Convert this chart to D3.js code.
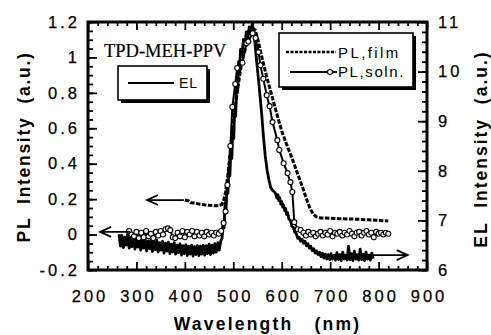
<!DOCTYPE html>
<html><head><meta charset="utf-8">
<script src="https://cdn.jsdelivr.net/npm/d3@7"></script>
<style>body{margin:0;background:#fff}svg{display:block}</style>
</head><body>
<svg id="c" width="491" height="335"></svg>
<script>
// ---- data ----
const xTicks = [200, 300, 400, 500, 600, 700, 800, 900];
const yLeftTicks = [-0.2, 0, 0.2, 0.4, 0.6, 0.8, 1, 1.2];
const yLeftLabels = ["-0.2", "0", "0.2", "0.4", "0.6", "0.8", "1", "1.2"];
const yRightTicks = [6, 7, 8, 9, 10, 11];
const yRightLabels = ["6", "7", "8", "9", "10", "11"];

// EL (right axis)
const elWl = [264,267,270,273,276,279,282,285,288,291,294,297,300,303,306,309,312,315,318,321,324,327,330,333,336,339,342,345,348,351,354,357,360,363,366,369,372,375,378,381,384,387,390,393,396,399,402,405,408,411,414,417,420,423,426,429,432,435,438,441,444,447,450,453,456,459,462,465,468,471,474,
 477,479,481,483,485,487,489,491,493,495,497,499,501,503,505,507,509,511,513,515,518,521,524,527,530,533,536,539,542,545,548,552,556,559,562,566,570,574,577,580,584,587,590,592,594,596,598,600,602,604,606,608,610,612,615,618,621,624,627,630,633,
 636,639,642,645,648,651,654,657,660,663,666,669,672,675,678,681,684,687,690,693,696,699,702,705,708,711,714,717,720,723,726,729,732,735,738,741,744,747,750,753,756,759,762,765,768,771,774,777,780,783,786,789];
const elVal = [6.72,6.48,6.70,6.45,6.66,6.50,6.73,6.44,6.64,6.47,6.69,6.42,6.62,6.46,6.67,6.40,6.60,6.44,6.63,6.38,6.58,6.43,6.61,6.37,6.57,6.41,6.60,6.36,6.55,6.40,6.58,6.34,6.54,6.38,6.56,6.33,6.52,6.36,6.55,6.32,6.50,6.35,6.53,6.30,6.49,6.33,6.51,6.29,6.48,6.32,6.50,6.28,6.47,6.31,6.49,6.29,6.48,6.32,6.50,6.30,6.49,6.33,6.52,6.31,6.50,6.34,6.53,6.36,6.55,6.40,6.58,
 6.65,6.95,6.85,7.35,7.15,7.70,7.55,8.05,7.90,8.45,8.25,8.85,8.65,9.30,9.10,9.80,9.60,10.20,10.00,10.45,10.35,10.65,10.55,10.80,10.70,10.90,10.82,10.95,10.85,10.55,10.23,9.85,9.43,9.10,8.72,8.30,8.00,7.80,7.67,7.62,7.58,7.55,7.45,7.52,7.40,7.46,7.33,7.38,7.27,7.31,7.20,7.24,7.12,7.16,7.02,7.00,6.88,6.86,6.76,6.74,6.64,
 6.66,6.58,6.62,6.54,6.58,6.49,6.53,6.44,6.48,6.39,6.43,6.34,6.39,6.31,6.36,6.27,6.34,6.24,6.32,6.22,6.31,6.21,6.33,6.22,6.30,6.20,6.35,6.21,6.31,6.19,6.36,6.22,6.30,6.20,6.48,6.21,6.33,6.19,6.38,6.22,6.31,6.20,6.42,6.21,6.32,6.19,6.36,6.22,6.30,6.20,6.34,6.23];

// PL film (left axis)
const filmWl = [400,408,412,420,430,440,450,460,470,476,480,484,488,492,496,500,505,510,515,520,525,530,535,540,545,550,555,560,570,580,590,600,610,620,630,640,650,658,665,672,680,700,720,740,760,780,800,820];
const filmVal = [0.195,0.19,0.18,0.178,0.172,0.168,0.165,0.163,0.163,0.17,0.19,0.24,0.32,0.42,0.53,0.63,0.74,0.84,0.93,1.0,1.05,1.1,1.14,1.16,1.155,1.11,1.05,0.99,0.88,0.78,0.68,0.585,0.51,0.44,0.365,0.29,0.21,0.15,0.115,0.1,0.094,0.092,0.09,0.088,0.086,0.083,0.08,0.077];

// PL solution (left axis)
const solnWl = [285,290,295,300,305,310,315,320,325,330,335,340,345,350,355,360,365,370,375,380,385,390,395,400,405,410,415,420,425,430,435,440,445,450,455,460,465,470,475,
 480,484,488,494,498,504,508,519,527,531,540,546,552,556,562,569,575,581,591,595,604,612,618,622,626,633,639,
 645,650,655,660,665,670,675,680,685,690,695,700,705,710,715,720,725,730,735,740,745,750,755,760,765,770,775,780,785,790,795,800,805,810,815,820];
const solnVal = [0.02,0.0,-0.01,0.015,-0.02,0.01,-0.015,0.02,-0.01,0.005,-0.02,0.015,-0.005,0.02,0.0,0.03,0.035,0.025,-0.015,-0.02,0.01,-0.01,0.02,-0.015,0.015,0.0,0.02,-0.01,0.015,-0.005,0.01,-0.01,0.015,0.0,0.01,-0.005,0.01,0.005,0.02,
 0.065,0.13,0.28,0.5,0.72,0.85,0.94,0.97,1.08,1.09,1.137,1.11,1.03,0.956,0.88,0.787,0.725,0.635,0.533,0.477,0.403,0.347,0.296,0.24,0.07,0.03,0.026,
 0.01,-0.005,0.015,0.0,0.01,-0.01,0.005,0.015,-0.005,0.01,0.0,0.02,-0.01,0.01,0.005,0.015,-0.005,0.01,0.0,0.02,0.005,-0.01,0.01,0.015,-0.005,0.01,0.02,0.0,0.01,-0.015,0.015,0.005,0.01,0.0,0.01,0.005];

// ---- chart ----
const svg = d3.select("#c");
const L = 88, R = 427, T = 22, B = 270;
const x = d3.scaleLinear().domain([200, 900]).range([L, R]);
const yL = d3.scaleLinear().domain([-0.2, 1.2]).range([B, T]);
const yR = d3.scaleLinear().domain([6, 11]).range([B, T]);

const range = (a, b, s) => d3.range(Math.round((b - a) / s) + 1).map(i => +(a + i * s).toFixed(4));
const xMinor = range(200, 900, 20).filter(v => v % 100 !== 0);
const yLMinor = range(-0.2, 1.2, 0.05);
const yRMinor = range(6, 11, 0.2);

const tickFont = "'Liberation Sans', Arial, sans-serif";

// minor ticks
svg.append("g").attr("transform", `translate(0,${B})`)
  .call(d3.axisBottom(x).tickValues(xMinor).tickSize(-4).tickFormat(""));
svg.append("g").attr("transform", `translate(0,${T})`)
  .call(d3.axisTop(x).tickValues(xMinor).tickSize(-4).tickFormat(""));
svg.append("g").attr("transform", `translate(${L},0)`)
  .call(d3.axisLeft(yL).tickValues(yLMinor).tickSize(-5).tickFormat(""));
svg.append("g").attr("transform", `translate(${R},0)`)
  .call(d3.axisRight(yR).tickValues(yRMinor).tickSize(-5).tickFormat(""));

// major ticks + labels
const gB = svg.append("g").attr("transform", `translate(0,${B})`)
  .call(d3.axisBottom(x).tickValues(xTicks).tickSize(-8).tickFormat(d3.format("d")));
gB.selectAll("text").attr("y", 32).attr("dy", 0).attr("dx", 1.5);
svg.append("g").attr("transform", `translate(0,${T})`)
  .call(d3.axisTop(x).tickValues(xTicks).tickSize(-8).tickFormat(""));
const gL = svg.append("g").attr("transform", `translate(${L},0)`)
  .call(d3.axisLeft(yL).tickValues(yLeftTicks).tickSize(-9).tickFormat((d, i) => yLeftLabels[i]));
gL.selectAll("text").attr("x", -8);
const gR = svg.append("g").attr("transform", `translate(${R},0)`)
  .call(d3.axisRight(yR).tickValues(yRightTicks).tickSize(-9).tickFormat((d, i) => yRightLabels[i]));
gR.selectAll("text").attr("x", 11);

svg.selectAll(".tick line").attr("stroke", "#000").attr("stroke-width", 1.8);
svg.selectAll(".domain").remove();
svg.selectAll(".tick text").attr("font-family", tickFont).attr("font-size", 16.5)
  .attr("letter-spacing", "3px").attr("fill", "#000")
  .attr("stroke", "#000").attr("stroke-width", 0.25);

// frame
svg.append("rect").attr("x", L).attr("y", T).attr("width", R - L).attr("height", B - T)
  .attr("fill", "none").attr("stroke", "#000").attr("stroke-width", 3);

// series
const lineEL = d3.line().x((d, i) => x(elWl[i])).y(d => yR(d));
svg.append("path").datum(elVal).attr("d", lineEL)
  .attr("fill", "none").attr("stroke", "#000").attr("stroke-width", 2.8).attr("stroke-linejoin", "round");

const lineFilm = d3.line().x((d, i) => x(filmWl[i])).y(d => yL(d));
svg.append("path").datum(filmVal).attr("d", lineFilm)
  .attr("fill", "none").attr("stroke", "#000").attr("stroke-width", 3).attr("stroke-dasharray", "4.5,1.5");

const lineSoln = d3.line().x((d, i) => x(solnWl[i])).y(d => yL(d));
svg.append("path").datum(solnVal).attr("d", lineSoln)
  .attr("fill", "none").attr("stroke", "#000").attr("stroke-width", 2);
svg.append("g").selectAll("circle").data(solnVal).join("circle")
  .attr("cx", (d, i) => x(solnWl[i])).attr("cy", d => yL(d)).attr("r", 2.5)
  .attr("fill", "#fff").attr("stroke", "#000").attr("stroke-width", 1.1);

// arrows (annotations)
function arrow(x1, y1, x2, y2) {
  const dir = Math.sign(x2 - x1);
  svg.append("path").attr("d", `M${x1},${y1}L${x2},${y2}M${x2 - dir * 11},${y2 - 5}L${x2},${y2}L${x2 - dir * 11},${y2 + 5}`)
    .attr("fill", "none").attr("stroke", "#000").attr("stroke-width", 1.8);
}
arrow(x(398), yL(0.195), x(322), yL(0.195));
arrow(x(287), yL(0.015), x(225), yL(0.015));
arrow(x(784), yR(6.3), x(860), yR(6.3));

// sample label
svg.append("text").attr("x", 104).attr("y", 57).text("TPD-MEH-PPV")
  .attr("font-family", "'Liberation Serif', 'Times New Roman', serif").attr("font-size", 18.5)
  .attr("stroke", "#000").attr("stroke-width", 0.2);

// legend 1
svg.append("rect").attr("x", 121).attr("y", 69).attr("width", 89).attr("height", 34).attr("fill", "#000");
svg.append("rect").attr("x", 118).attr("y", 66).attr("width", 89).attr("height", 34)
  .attr("fill", "#fff").attr("stroke", "#000").attr("stroke-width", 1.6);
svg.append("line").attr("x1", 128).attr("x2", 174).attr("y1", 83).attr("y2", 83)
  .attr("stroke", "#000").attr("stroke-width", 2.2);
svg.append("text").attr("x", 179).attr("y", 88).text("EL")
  .attr("font-family", tickFont).attr("font-size", 14).attr("letter-spacing", "1px");

// legend 2
svg.append("rect").attr("x", 282).attr("y", 36).attr("width", 134).attr("height", 54).attr("fill", "#000");
svg.append("rect").attr("x", 279).attr("y", 33).attr("width", 134).attr("height", 54)
  .attr("fill", "#fff").attr("stroke", "#000").attr("stroke-width", 1.6);
svg.append("line").attr("x1", 286).attr("x2", 336).attr("y1", 52).attr("y2", 52)
  .attr("stroke", "#000").attr("stroke-width", 2.6).attr("stroke-dasharray", "3,1.5");
svg.append("text").attr("x", 338).attr("y", 58).text("PL,film")
  .attr("font-family", tickFont).attr("font-size", 15).attr("letter-spacing", "2.4px");
svg.append("line").attr("x1", 290).attr("x2", 337).attr("y1", 72).attr("y2", 72)
  .attr("stroke", "#000").attr("stroke-width", 2);
svg.append("circle").attr("cx", 330).attr("cy", 72).attr("r", 2.5)
  .attr("fill", "#fff").attr("stroke", "#000").attr("stroke-width", 1.1);
svg.append("text").attr("x", 338).attr("y", 77).text("PL,soln.")
  .attr("font-family", tickFont).attr("font-size", 15).attr("letter-spacing", "1.6px");

// axis titles
const titleFont = "'Liberation Sans', Arial, sans-serif";
svg.append("text").attr("x", (L + R) / 2 + 10).attr("y", 330).attr("text-anchor", "middle")
  .attr("font-family", titleFont).attr("font-weight", "bold").attr("font-size", 17.5)
  .attr("letter-spacing", "2.2px").style("white-space", "pre").text("Wavelength   (nm)");
svg.append("text").attr("transform", "translate(30,147) rotate(-90)").attr("text-anchor", "middle")
  .attr("font-family", titleFont).attr("font-weight", "bold").attr("font-size", 17.5)
  .attr("letter-spacing", "1.7px").style("white-space", "pre").text("PL  Intensity  (a.u.)");
svg.append("text").attr("transform", "translate(487,149) rotate(-90)").attr("text-anchor", "middle")
  .attr("font-family", titleFont).attr("font-weight", "bold").attr("font-size", 17.5)
  .attr("letter-spacing", "2px").style("white-space", "pre").text("EL  Intensity  (a.u.)");
</script>
</body></html>
